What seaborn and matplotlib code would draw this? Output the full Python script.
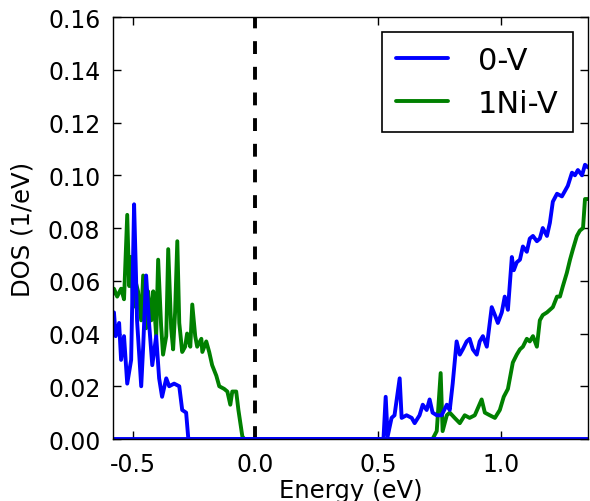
import numpy as np
import pandas as pd
import matplotlib
matplotlib.use("Agg")
import matplotlib.pyplot as plt
import seaborn as sns

# 0-V (blue)
energy_0v = [-0.580, -0.576, -0.569, -0.555, -0.547, -0.535, -0.522, -0.506, -0.494, -0.486,
             -0.482, -0.465, -0.457, -0.445, -0.433, -0.420, -0.404, -0.392, -0.380, -0.363,
             -0.351, -0.331, -0.310, -0.298, -0.282, -0.273, 0.506, 0.522, 0.531, 0.539,
             0.555, 0.567, 0.588, 0.596, 0.616, 0.637, 0.649, 0.669, 0.682, 0.698,
             0.710, 0.722, 0.739, 0.759, 0.780, 0.792, 0.804, 0.820, 0.833, 0.845,
             0.861, 0.873, 0.886, 0.902, 0.914, 0.927, 0.943, 0.955, 0.963, 0.976,
             0.988, 1.004, 1.016, 1.029, 1.045, 1.053, 1.065, 1.078, 1.090, 1.106,
             1.118, 1.131, 1.147, 1.159, 1.171, 1.188, 1.200, 1.212, 1.229, 1.249,
             1.261, 1.273, 1.290, 1.302, 1.314, 1.331, 1.343, 1.355]
dos_0v = [0.048, 0.048, 0.039, 0.044, 0.030, 0.039, 0.021, 0.030, 0.089, 0.061,
          0.045, 0.020, 0.035, 0.062, 0.044, 0.028, 0.039, 0.023, 0.016, 0.023,
          0.020, 0.021, 0.020, 0.011, 0.010, 0.000, 0.000, 0.000, 0.016, 0.001,
          0.008, 0.009, 0.023, 0.008, 0.009, 0.008, 0.006, 0.009, 0.013, 0.011,
          0.015, 0.010, 0.009, 0.009, 0.013, 0.011, 0.021, 0.037, 0.032, 0.034,
          0.037, 0.038, 0.034, 0.032, 0.037, 0.039, 0.035, 0.044, 0.050, 0.047,
          0.044, 0.048, 0.054, 0.049, 0.069, 0.064, 0.067, 0.068, 0.073, 0.071,
          0.076, 0.077, 0.075, 0.076, 0.080, 0.077, 0.082, 0.090, 0.093, 0.092,
          0.094, 0.096, 0.101, 0.100, 0.102, 0.100, 0.104, 0.103]

# 1Ni-V (green)
energy_1ni = [-0.580, -0.576, -0.563, -0.547, -0.535, -0.522, -0.514, -0.506, -0.498, -0.486,
              -0.478, -0.465, -0.457, -0.445, -0.437, -0.424, -0.416, -0.404, -0.396, -0.384,
              -0.376, -0.363, -0.355, -0.343, -0.335, -0.327, -0.318, -0.310, -0.298, -0.286,
              -0.278, -0.265, -0.257, -0.245, -0.237, -0.220, -0.216, -0.200, -0.188, -0.176,
              -0.159, -0.147, -0.127, -0.114, -0.102, -0.094, -0.078, -0.069, -0.053, -0.045,
              0.722, 0.739, 0.755, 0.763, 0.780, 0.792, 0.812, 0.833, 0.853, 0.873,
              0.894, 0.922, 0.935, 0.955, 0.976, 0.996, 1.012, 1.029, 1.049, 1.065,
              1.078, 1.090, 1.106, 1.118, 1.131, 1.147, 1.159, 1.171, 1.188, 1.200,
              1.212, 1.229, 1.241, 1.253, 1.269, 1.282, 1.294, 1.310, 1.322, 1.335,
              1.343, 1.355]
dos_1ni = [0.055, 0.057, 0.054, 0.057, 0.053, 0.085, 0.058, 0.069, 0.050, 0.059,
           0.056, 0.045, 0.062, 0.042, 0.056, 0.045, 0.056, 0.039, 0.068, 0.043,
           0.032, 0.039, 0.072, 0.042, 0.034, 0.048, 0.075, 0.044, 0.033, 0.035,
           0.040, 0.035, 0.051, 0.039, 0.035, 0.038, 0.033, 0.037, 0.033, 0.028,
           0.024, 0.020, 0.019, 0.018, 0.013, 0.018, 0.018, 0.011, 0.001, 0.000,
           0.000, 0.003, 0.025, 0.003, 0.009, 0.010, 0.008, 0.006, 0.009, 0.008,
           0.009, 0.015, 0.010, 0.009, 0.008, 0.011, 0.016, 0.019, 0.029, 0.032,
           0.034, 0.035, 0.038, 0.037, 0.039, 0.035, 0.045, 0.047, 0.048, 0.049,
           0.050, 0.054, 0.054, 0.058, 0.063, 0.068, 0.072, 0.077, 0.079, 0.080,
           0.091, 0.091]

xticks = [-0.5, 0.0, 0.5, 1.0]
yticks = [0.00, 0.02, 0.04, 0.06, 0.08, 0.10, 0.12, 0.14, 0.16]

sns.set_style("ticks", {"xtick.direction": "in", "ytick.direction": "in"})
plt.rcParams['font.family'] = ['DejaVu Sans']
plt.rcParams['text.color'] = 'black'
plt.rcParams['axes.labelcolor'] = 'black'
plt.rcParams['xtick.color'] = 'black'
plt.rcParams['ytick.color'] = 'black'

fig = plt.figure(figsize=(5.9, 5.02), dpi=100)
ax = fig.add_axes([0.1915, 0.1235, 0.805, 0.8405])

df0 = pd.DataFrame({"Energy": energy_0v, "DOS": dos_0v})
df1 = pd.DataFrame({"Energy": energy_1ni, "DOS": dos_1ni})

sns.lineplot(data=df1, x="Energy", y="DOS", color="#008000", lw=2.8,
             estimator=None, sort=False, label="1Ni-V", ax=ax)
sns.lineplot(data=df0, x="Energy", y="DOS", color="#0000ff", lw=2.8,
             estimator=None, sort=False, label="0-V", ax=ax)
ax.axhline(0.0, color="#0000ff", lw=2.8, zorder=2.5)
ax.axvline(0.0, color="black", lw=2.8, dashes=(3.3, 3.3))

ax.set_xlim(-0.58, 1.355)
ax.set_ylim(0, 0.16)
ax.set_xticks(xticks)
ax.set_yticks(yticks)
ax.set_yticklabels([f"{v:.2f}" for v in yticks])
ax.set_xticklabels([f"{v:.1f}" for v in xticks])
ax.tick_params(axis="both", which="major", direction="in", length=6, width=1,
               labelsize=17, top=True, right=True, pad=9, color="black",
               labelcolor="black")
for s in ax.spines.values():
    s.set_color("black")
    s.set_linewidth(1.0)
    s.set_visible(True)

ax.set_xlabel("Energy (eV)", fontsize=17.5, labelpad=2)
ax.set_ylabel("DOS (1/eV)", fontsize=17.5, labelpad=10)

handles, labels = ax.get_legend_handles_labels()
order = [labels.index("0-V"), labels.index("1Ni-V")]
leg = ax.legend([handles[i] for i in order], [labels[i] for i in order],
                loc="upper right", fontsize=22, frameon=True, fancybox=False,
                framealpha=1, edgecolor="black", handlelength=1.7,
                handletextpad=1.0, borderpad=0.45, labelspacing=0.45,
                borderaxespad=0.5)
leg.get_frame().set_linewidth(1.2)
for t in leg.get_texts():
    t.set_color("black")

fig.savefig("out.png", dpi=100)
